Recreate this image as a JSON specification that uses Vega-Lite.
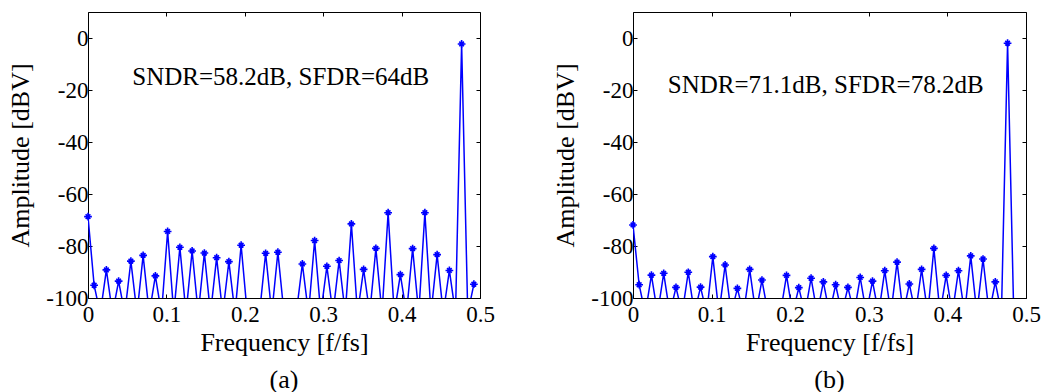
{
  "$schema": "https://vega.github.io/schema/vega-lite/v6.json",
  "padding": {"left": 6, "top": 11, "right": 0, "bottom": 0},
  "spacing": 56,
  "config": {
    "font": "Liberation Serif, Times New Roman, serif",
    "view": {"stroke": "black", "strokeWidth": 1},
    "style": {"guide-label": {"font": "Liberation Serif, Times New Roman, serif", "fontSize": 23, "fill": "black"}, "guide-title": {"font": "Liberation Serif, Times New Roman, serif", "fontSize": 26, "fontWeight": "normal", "fill": "black"}},
    "axis": {"labelFont": "Liberation Serif, Times New Roman, serif", "labelFontSize": 23, "labelColor": "black", "titleFont": "Liberation Serif, Times New Roman, serif", "titleFontSize": 26, "titleFontWeight": "normal", "titleColor": "black", "tickColor": "black", "tickWidth": 1, "grid": false, "domain": false, "labelFlush": false},
    "title": {"font": "Liberation Serif, Times New Roman, serif", "fontSize": 26, "fontWeight": "normal", "color": "black"}
  },
  "datasets": {
    "a": [
      {"f": 0, "amp": -68.7}, {"f": 0.00781, "amp": -95.1}, {"f": 0.01563, "amp": -106}, {"f": 0.02344, "amp": -89.2},
      {"f": 0.03125, "amp": -106}, {"f": 0.03906, "amp": -93.5}, {"f": 0.04688, "amp": -106}, {"f": 0.05469, "amp": -85.8},
      {"f": 0.0625, "amp": -106}, {"f": 0.07031, "amp": -83.6}, {"f": 0.07813, "amp": -106}, {"f": 0.08594, "amp": -91.5},
      {"f": 0.09375, "amp": -106}, {"f": 0.10156, "amp": -74.4}, {"f": 0.10938, "amp": -106}, {"f": 0.11719, "amp": -80.5},
      {"f": 0.125, "amp": -106}, {"f": 0.13281, "amp": -81.9}, {"f": 0.14063, "amp": -106}, {"f": 0.14844, "amp": -82.7},
      {"f": 0.15625, "amp": -106}, {"f": 0.16406, "amp": -84.5}, {"f": 0.17188, "amp": -106}, {"f": 0.17969, "amp": -86.0},
      {"f": 0.1875, "amp": -106}, {"f": 0.19531, "amp": -79.7}, {"f": 0.20313, "amp": -106}, {"f": 0.21094, "amp": -106},
      {"f": 0.21875, "amp": -106}, {"f": 0.22656, "amp": -82.8}, {"f": 0.23438, "amp": -106}, {"f": 0.24219, "amp": -82.4},
      {"f": 0.25, "amp": -106}, {"f": 0.25781, "amp": -106}, {"f": 0.26563, "amp": -106}, {"f": 0.27344, "amp": -86.9},
      {"f": 0.28125, "amp": -106}, {"f": 0.28906, "amp": -77.9}, {"f": 0.29688, "amp": -106}, {"f": 0.30469, "amp": -87.8},
      {"f": 0.3125, "amp": -106}, {"f": 0.32031, "amp": -85.6}, {"f": 0.32813, "amp": -106}, {"f": 0.33594, "amp": -71.5},
      {"f": 0.34375, "amp": -106}, {"f": 0.35156, "amp": -89.0}, {"f": 0.35938, "amp": -106}, {"f": 0.36719, "amp": -80.9},
      {"f": 0.375, "amp": -106}, {"f": 0.38281, "amp": -67.2}, {"f": 0.39063, "amp": -106}, {"f": 0.39844, "amp": -91.0},
      {"f": 0.40625, "amp": -106}, {"f": 0.41406, "amp": -81.0}, {"f": 0.42188, "amp": -106}, {"f": 0.42969, "amp": -67.2},
      {"f": 0.4375, "amp": -106}, {"f": 0.44531, "amp": -83.3}, {"f": 0.45313, "amp": -106}, {"f": 0.46094, "amp": -89.4},
      {"f": 0.46875, "amp": -106}, {"f": 0.47656, "amp": -2.3}, {"f": 0.48438, "amp": -106}, {"f": 0.49219, "amp": -94.7}
    ],
    "b": [
      {"f": 0, "amp": -71.9}, {"f": 0.00781, "amp": -94.9}, {"f": 0.01563, "amp": -106}, {"f": 0.02344, "amp": -91.2},
      {"f": 0.03125, "amp": -106}, {"f": 0.03906, "amp": -90.5}, {"f": 0.04688, "amp": -106}, {"f": 0.05469, "amp": -95.9},
      {"f": 0.0625, "amp": -106}, {"f": 0.07031, "amp": -90.1}, {"f": 0.07813, "amp": -106}, {"f": 0.08594, "amp": -95.8},
      {"f": 0.09375, "amp": -106}, {"f": 0.10156, "amp": -84.1}, {"f": 0.10938, "amp": -106}, {"f": 0.11719, "amp": -87.3},
      {"f": 0.125, "amp": -106}, {"f": 0.13281, "amp": -96.3}, {"f": 0.14063, "amp": -106}, {"f": 0.14844, "amp": -89.0},
      {"f": 0.15625, "amp": -106}, {"f": 0.16406, "amp": -93.1}, {"f": 0.17188, "amp": -106}, {"f": 0.17969, "amp": -106},
      {"f": 0.1875, "amp": -106}, {"f": 0.19531, "amp": -91.3}, {"f": 0.20313, "amp": -106}, {"f": 0.21094, "amp": -96.0},
      {"f": 0.21875, "amp": -106}, {"f": 0.22656, "amp": -92.4}, {"f": 0.23438, "amp": -106}, {"f": 0.24219, "amp": -93.8},
      {"f": 0.25, "amp": -106}, {"f": 0.25781, "amp": -94.9}, {"f": 0.26563, "amp": -106}, {"f": 0.27344, "amp": -95.9},
      {"f": 0.28125, "amp": -106}, {"f": 0.28906, "amp": -92.1}, {"f": 0.29688, "amp": -106}, {"f": 0.30469, "amp": -93.5},
      {"f": 0.3125, "amp": -106}, {"f": 0.32031, "amp": -89.5}, {"f": 0.32813, "amp": -106}, {"f": 0.33594, "amp": -86.2},
      {"f": 0.34375, "amp": -106}, {"f": 0.35156, "amp": -94.6}, {"f": 0.35938, "amp": -106}, {"f": 0.36719, "amp": -89.0},
      {"f": 0.375, "amp": -106}, {"f": 0.38281, "amp": -80.9}, {"f": 0.39063, "amp": -106}, {"f": 0.39844, "amp": -91.3},
      {"f": 0.40625, "amp": -106}, {"f": 0.41406, "amp": -89.5}, {"f": 0.42188, "amp": -106}, {"f": 0.42969, "amp": -83.8},
      {"f": 0.4375, "amp": -106}, {"f": 0.44531, "amp": -85.0}, {"f": 0.45313, "amp": -106}, {"f": 0.46094, "amp": -93.8},
      {"f": 0.46875, "amp": -106}, {"f": 0.47656, "amp": -2.0}, {"f": 0.48438, "amp": -106}, {"f": 0.49219, "amp": -106}
    ]
  },
  "hconcat": [
    {
      "width": 392, "height": 286,
      "title": {"text": "(a)", "orient": "bottom", "offset": 12},
      "data": {"name": "a"},
      "layer": [
        {
          "mark": {"type": "line", "color": "#0000ff", "strokeWidth": 1.5, "clip": true},
          "encoding": {
            "x": {"field": "f", "type": "quantitative", "scale": {"domain": [0, 0.5], "nice": false, "zero": false},
                  "axis": {"orient": "bottom", "values": [0, 0.1, 0.2, 0.3, 0.4, 0.5], "labelExpr": "toString(datum.value)", "title": "Frequency [f/fs]", "tickSize": -4, "labelPadding": 9, "titleY": 52, "titleBaseline": "alphabetic", "labelFont": "Liberation Serif, Times New Roman, serif", "titleFont": "Liberation Serif, Times New Roman, serif", "labelFontSize": 23, "titleFontSize": 26}},
            "y": {"field": "amp", "type": "quantitative", "scale": {"domain": [-100, 10], "nice": false, "zero": false},
                  "axis": {"orient": "left", "values": [-100, -80, -60, -40, -20, 0], "labelExpr": "toString(datum.value)", "title": "Amplitude [dBV]", "tickSize": -4, "labelPadding": 4, "titleX": -60, "titleY": 143, "titleBaseline": "alphabetic", "labelFont": "Liberation Serif, Times New Roman, serif", "titleFont": "Liberation Serif, Times New Roman, serif", "labelFontSize": 23, "titleFontSize": 26}}
          }
        },
        {
          "transform": [{"filter": "datum.amp > -100"}],
          "mark": {"type": "point", "shape": "M-1,0L1,0M0,-1L0,1M-0.6,-0.6L0.6,0.6M-0.6,0.6L0.6,-0.6", "filled": false, "color": "#0000ff", "strokeWidth": 1.6, "size": 60, "opacity": 1, "clip": false},
          "encoding": {
            "x": {"field": "f", "type": "quantitative", "scale": {"domain": [0, 0.5], "nice": false, "zero": false}, "axis": null},
            "y": {"field": "amp", "type": "quantitative", "scale": {"domain": [-100, 10], "nice": false, "zero": false}, "axis": null}
          }
        },
        {
          "data": {"values": [{"label": "SNDR=58.2dB, SFDR=64dB"}]},
          "mark": {"type": "text", "fontSize": 25, "font": "Liberation Serif, Times New Roman, serif", "baseline": "alphabetic", "align": "center", "color": "black"},
          "encoding": {
            "text": {"field": "label"},
            "x": {"datum": 0.2459, "type": "quantitative", "scale": {"domain": [0, 0.5], "nice": false, "zero": false}, "axis": null},
            "y": {"datum": -18.1, "type": "quantitative", "scale": {"domain": [-100, 10], "nice": false, "zero": false}, "axis": null}
          }
        },
        {
          "mark": {"type": "point", "opacity": 0},
          "encoding": {
            "x": {"field": "f", "type": "quantitative", "scale": {"domain": [0, 0.5], "nice": false, "zero": false},
                  "axis": {"orient": "top", "values": [0, 0.1, 0.2, 0.3, 0.4, 0.5], "labels": false, "title": null, "tickSize": -4}},
            "y": {"field": "amp", "type": "quantitative", "scale": {"domain": [-100, 10], "nice": false, "zero": false},
                  "axis": {"orient": "right", "values": [-100, -80, -60, -40, -20, 0], "labels": false, "title": null, "tickSize": -4}}
          }
        }
      ],
      "resolve": {"axis": {"x": "independent", "y": "independent"}}
    },
    {
      "width": 393, "height": 286,
      "title": {"text": "(b)", "orient": "bottom", "offset": 12},
      "data": {"name": "b"},
      "layer": [
        {
          "mark": {"type": "line", "color": "#0000ff", "strokeWidth": 1.5, "clip": true},
          "encoding": {
            "x": {"field": "f", "type": "quantitative", "scale": {"domain": [0, 0.5], "nice": false, "zero": false},
                  "axis": {"orient": "bottom", "values": [0, 0.1, 0.2, 0.3, 0.4, 0.5], "labelExpr": "toString(datum.value)", "title": "Frequency [f/fs]", "tickSize": -4, "labelPadding": 9, "titleY": 52, "titleBaseline": "alphabetic", "labelFont": "Liberation Serif, Times New Roman, serif", "titleFont": "Liberation Serif, Times New Roman, serif", "labelFontSize": 23, "titleFontSize": 26}},
            "y": {"field": "amp", "type": "quantitative", "scale": {"domain": [-100, 10], "nice": false, "zero": false},
                  "axis": {"orient": "left", "values": [-100, -80, -60, -40, -20, 0], "labelExpr": "toString(datum.value)", "title": "Amplitude [dBV]", "tickSize": -4, "labelPadding": 4, "titleX": -60, "titleY": 143, "titleBaseline": "alphabetic", "labelFont": "Liberation Serif, Times New Roman, serif", "titleFont": "Liberation Serif, Times New Roman, serif", "labelFontSize": 23, "titleFontSize": 26}}
          }
        },
        {
          "transform": [{"filter": "datum.amp > -100"}],
          "mark": {"type": "point", "shape": "M-1,0L1,0M0,-1L0,1M-0.6,-0.6L0.6,0.6M-0.6,0.6L0.6,-0.6", "filled": false, "color": "#0000ff", "strokeWidth": 1.6, "size": 60, "opacity": 1, "clip": false},
          "encoding": {
            "x": {"field": "f", "type": "quantitative", "scale": {"domain": [0, 0.5], "nice": false, "zero": false}, "axis": null},
            "y": {"field": "amp", "type": "quantitative", "scale": {"domain": [-100, 10], "nice": false, "zero": false}, "axis": null}
          }
        },
        {
          "data": {"values": [{"label": "SNDR=71.1dB, SFDR=78.2dB"}]},
          "mark": {"type": "text", "fontSize": 25, "font": "Liberation Serif, Times New Roman, serif", "baseline": "alphabetic", "align": "center", "color": "black"},
          "encoding": {
            "text": {"field": "label"},
            "x": {"datum": 0.2452, "type": "quantitative", "scale": {"domain": [0, 0.5], "nice": false, "zero": false}, "axis": null},
            "y": {"datum": -21.3, "type": "quantitative", "scale": {"domain": [-100, 10], "nice": false, "zero": false}, "axis": null}
          }
        },
        {
          "mark": {"type": "point", "opacity": 0},
          "encoding": {
            "x": {"field": "f", "type": "quantitative", "scale": {"domain": [0, 0.5], "nice": false, "zero": false},
                  "axis": {"orient": "top", "values": [0, 0.1, 0.2, 0.3, 0.4, 0.5], "labels": false, "title": null, "tickSize": -4}},
            "y": {"field": "amp", "type": "quantitative", "scale": {"domain": [-100, 10], "nice": false, "zero": false},
                  "axis": {"orient": "right", "values": [-100, -80, -60, -40, -20, 0], "labels": false, "title": null, "tickSize": -4}}
          }
        }
      ],
      "resolve": {"axis": {"x": "independent", "y": "independent"}}
    }
  ]
}
